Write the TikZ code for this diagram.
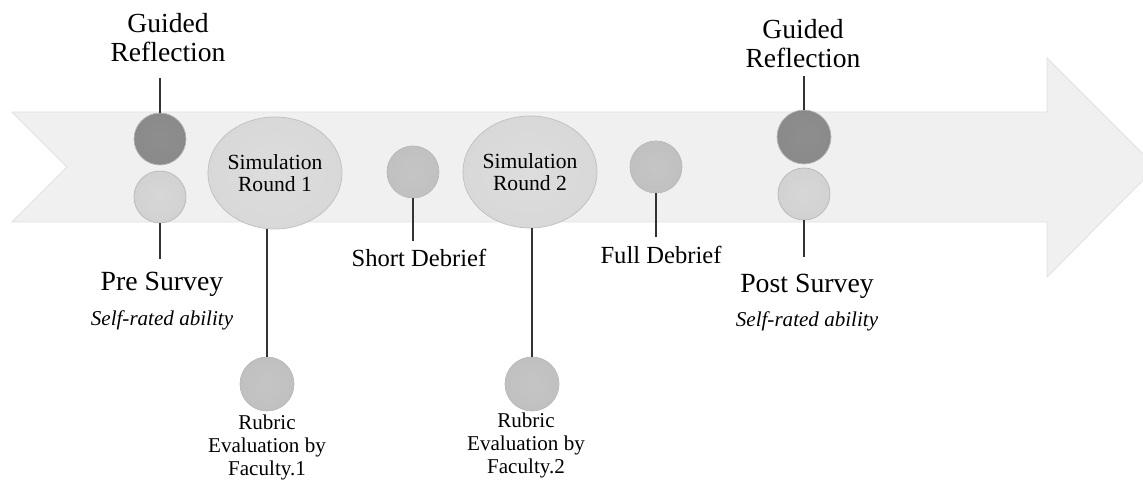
\documentclass[tikz,border=0pt]{standalone}
\usepackage{fontspec}
\setmainfont{Liberation Serif}
\usetikzlibrary{shapes.geometric}
\definecolor{band}{HTML}{F0F0F0}
\definecolor{dkin}{HTML}{8E8E8E}\definecolor{dkmid}{HTML}{888888}\definecolor{dkout}{HTML}{747474}\definecolor{dkrim}{HTML}{A2A2A2}
\definecolor{ltin}{HTML}{D7D7D7}\definecolor{ltmid}{HTML}{CFCFCF}\definecolor{ltout}{HTML}{B6B6B6}\definecolor{ltrim}{HTML}{D8D8D8}
\definecolor{mdin}{HTML}{C5C5C5}\definecolor{mdmid}{HTML}{BEBEBE}\definecolor{mdout}{HTML}{A6A6A6}\definecolor{mdrim}{HTML}{C8C8C8}
\definecolor{smin}{HTML}{DDDDDD}\definecolor{smmid}{HTML}{D6D6D6}\definecolor{smout}{HTML}{C3C3C3}\definecolor{smrim}{HTML}{D2D2D2}
\pgfdeclareradialshading{dkshade}{\pgfpoint{0bp}{0bp}}{color(0bp)=(dkin); color(36bp)=(dkmid); color(47bp)=(dkout); color(50bp)=(dkrim)}
\pgfdeclareradialshading{ltshade}{\pgfpoint{0bp}{0bp}}{color(0bp)=(ltin); color(36bp)=(ltmid); color(47bp)=(ltout); color(50bp)=(ltrim)}
\pgfdeclareradialshading{mdshade}{\pgfpoint{0bp}{0bp}}{color(0bp)=(mdin); color(36bp)=(mdmid); color(47bp)=(mdout); color(50bp)=(mdrim)}
\pgfdeclareradialshading{smshade}{\pgfpoint{0bp}{0bp}}{color(0bp)=(smin); color(36bp)=(smmid); color(47bp)=(smout); color(50bp)=(smrim)}
\tikzset{bb/.append style={circle,inner sep=0pt,minimum size=1.04cm,draw=black!28,line width=0.4pt}}
\tikzset{dk/.append style={shade,shading=dkshade}}
\tikzset{lt/.append style={shade,shading=ltshade}}
\tikzset{md/.append style={shade,shading=mdshade}}
\tikzset{sm/.append style={ellipse,shade,shading=smshade,draw=black!25,line width=0.4pt,inner sep=0pt,
  minimum width=2.48cm,minimum height=2.24cm,align=center,font=\fontsize{12.3}{12.8}\selectfont}}
\tikzset{ln/.append style={draw=black!80,line width=0.6pt}}
\tikzset{gr/.append style={align=center,inner sep=0pt,font=\fontsize{15.7}{16.4}\selectfont}}
\tikzset{sv/.append style={inner sep=0pt,font=\fontsize{15.8}{17}\selectfont}}
\tikzset{it/.append style={inner sep=0pt,font=\fontsize{12}{13}\selectfont\itshape}}
\tikzset{db/.append style={inner sep=0pt,font=\fontsize{14}{15}\selectfont}}
\tikzset{rb/.append style={align=center,inner sep=0pt,font=\fontsize{12}{13.1}\selectfont}}

\begin{document}
\begin{tikzpicture}[x=0.02cm,y=-0.02cm]
                \useasboundingbox (0,0) rectangle (1143,482);
                % timeline arrow
                \fill[band,draw=black!12,line width=0.5pt] (12,112) -- (1047,112) -- (1047,58) -- (1156,167)
                   -- (1047,277) -- (1047,222) -- (12,222) -- (67,167) -- cycle;
                % circles on the arrow
                \node[bb,dk] (gr1) at (160,139) {};
                \node[bb,lt] (pre) at (160,197) {};
                \node[sm] (sim1) at (275,173) {Simulation\\Round 1};
                \node[bb,md] (sd) at (413,172) {};
                \node[sm] (sim2) at (530,172) {Simulation\\Round 2};
                \node[bb,md] (fd) at (656,167) {};
                \node[bb,dk,minimum size=1.08cm] (gr2) at (804,137) {};
                \node[bb,lt] (post) at (804,194) {};
                \node[bb,md,minimum size=1.08cm] (rub1) at (267,384) {};
                \node[bb,md,minimum size=1.08cm] (rub2) at (532,384) {};
                % texts
                \node[gr,anchor=south] (gr1t) at (168,62) {Guided\\Reflection};
                \node[gr,anchor=south] (gr2t) at (803,68) {Guided\\Reflection};
                \node[sv,anchor=base] (pret) at (162,291) {Pre Survey};
                \node[it,anchor=base] (prei) at (162,326) {Self-rated ability};
                \node[sv,anchor=base] (postt) at (807,293) {Post Survey};
                \node[it,anchor=base] (posti) at (807,327) {Self-rated ability};
                \node[db,anchor=base] (sdt) at (419,267) {Short Debrief};
                \node[db,anchor=base] (fdt) at (661,264) {Full Debrief};
                \node[rb,anchor=base] (rub1t) at (267,476) {Rubric\\Evaluation by\\Faculty.1};
                \node[rb,anchor=base] (rub2t) at (526,474) {Rubric\\Evaluation by\\Faculty.2};
                % connectors
                \draw[ln,shorten >=9pt] (gr1.north) -- (gr1.north |- gr1t.south);
                \draw[ln,shorten >=4.5pt] (gr2.north) -- (gr2.north |- gr2t.south);
                \draw[ln,shorten >=7.4pt] (pre.south) -- (pre.south |- pret.north);
                \draw[ln,shorten >=9.6pt] (post.south) -- (post.south |- postt.north);
                \draw[ln,shorten >=4.9pt] (sd.south) -- (sd.south |- sdt.north);
                \draw[ln,shorten >=5.4pt] (fd.south) -- (fd.south |- fdt.north);
                \draw[ln] (rub1.north) -- (rub1.north |- sim1.south);
                \draw[ln] (rub2.north) -- (rub2.north |- sim2.south);
            \end{tikzpicture}
\end{document}
